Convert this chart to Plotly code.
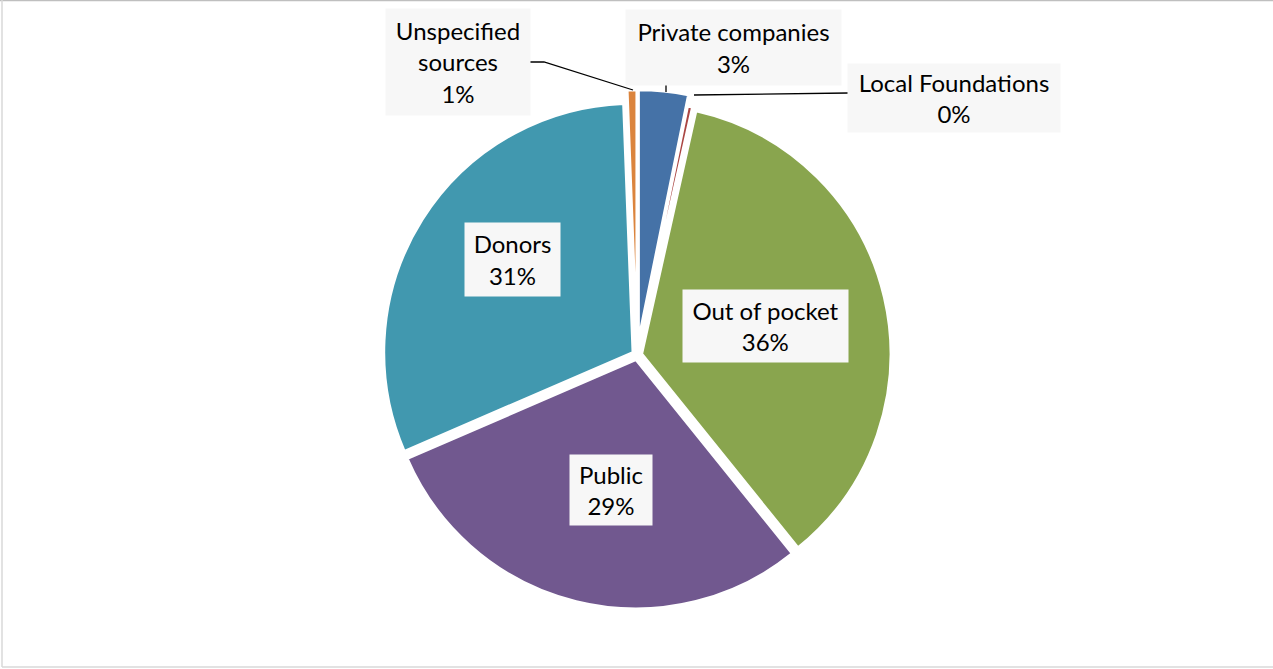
import plotly.graph_objects as go

# Funding sources (share of total, %), listed clockwise from 12 o'clock
sources = ["Private companies", "Local Foundations", "Out of pocket",
           "Public", "Donors", "Unspecified sources"]
shares = [3.2, 0.3, 35.7, 29.3, 30.9, 0.6]
label_texts = ["Private companies", "Local Foundations", "Out of pocket",
               "Public", "Donors", "Unspecified<br>sources"]
colors = ["#4572A7", "#AA4643", "#89A54E", "#71588F", "#4198AF", "#DB843D"]
pulls = [0.065, 0.02, 0.02, 0.02, 0.02, 0.065]

W, H = 1273, 669


def px(x):
    return x / W


def py(y):
    return 1 - y / H


# pie geometry in pixels
cx, cy, diam = 637, 355, 530
fig = go.Figure(go.Pie(
    labels=sources,
    values=shares,
    sort=False,
    direction="clockwise",
    rotation=0,
    pull=pulls,
    marker=dict(colors=colors, line=dict(color="white", width=2.5)),
    textinfo="none",
    hoverinfo="label+percent",
    showlegend=False,
    domain=dict(x=[px(cx - diam / 2), px(cx + diam / 2)],
                y=[py(cy + diam / 2), py(cy - diam / 2)]),
))

# label boxes: centre x, centre y, width, height (pixels)
label_box = {
    "Private companies": (733, 47, 215, 75),
    "Local Foundations": (954, 98, 212, 68),
    "Out of pocket": (765, 326, 165, 72),
    "Public": (611, 490, 82, 70),
    "Donors": (512, 259, 95, 73),
    "Unspecified sources": (458, 62, 144, 106),
}

total = sum(shares)
annotations = []
for name, txt, v in zip(sources, label_texts, shares):
    x, y, w, h = label_box[name]
    pct = round(v / total * 100)
    annotations.append(dict(
        x=px(x), y=py(y), xref="paper", yref="paper",
        text=f"{txt}<br>{pct}%", showarrow=False,
        font=dict(family="Lato, Carlito, sans-serif", size=24, color="#000000"),
        bgcolor="#F7F7F7", borderpad=0, width=w, height=h,
        align="center", valign="middle",
        xanchor="center", yanchor="middle",
    ))

line_style = dict(color="#000000", width=1.3)
shapes = [
    # leader lines
    dict(type="path", xref="paper", yref="paper",
         path=f"M {px(530)} {py(62)} L {px(544)} {py(62)} L {px(633)} {py(90)}",
         line=line_style),
    dict(type="line", xref="paper", yref="paper",
         x0=px(666), y0=py(85), x1=px(666), y1=py(92), line=line_style),
    dict(type="line", xref="paper", yref="paper",
         x0=px(694), y0=py(95), x1=px(848), y1=py(93), line=line_style),
    # chart frame
    dict(type="line", xref="paper", yref="paper",
         x0=0, y0=py(0.5), x1=1, y1=py(0.5),
         line=dict(color="#BFBFBF", width=1.5)),
    dict(type="line", xref="paper", yref="paper",
         x0=px(2), y0=py(0), x1=px(2), y1=py(667),
         line=dict(color="#D9D9D9", width=1.5)),
    dict(type="line", xref="paper", yref="paper",
         x0=px(2), y0=py(667), x1=1, y1=py(667),
         line=dict(color="#D9D9D9", width=1.5)),
]

fig.update_layout(
    width=W, height=H,
    margin=dict(l=0, r=0, t=0, b=0),
    paper_bgcolor="white",
    plot_bgcolor="white",
    annotations=annotations,
    shapes=shapes,
)

fig.write_html("out.html", config={"displayModeBar": False})
